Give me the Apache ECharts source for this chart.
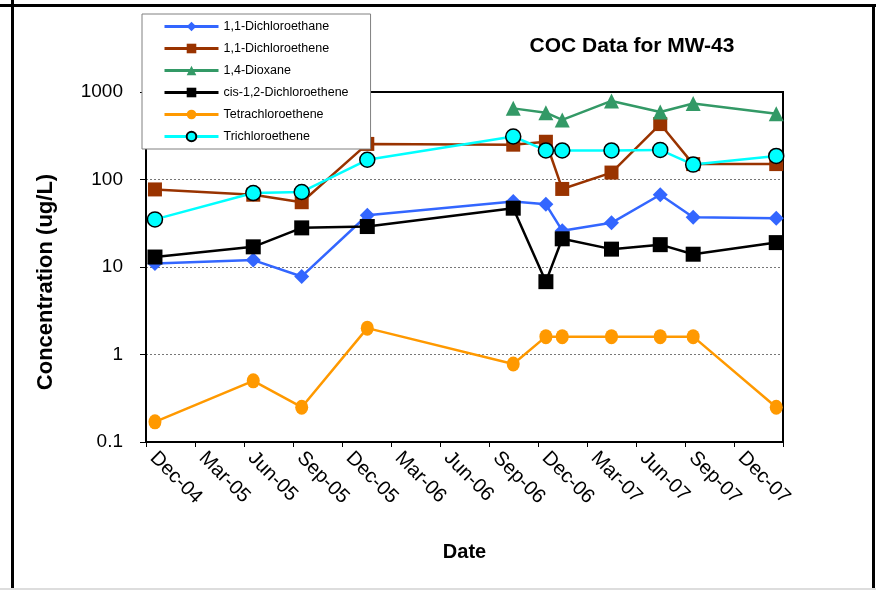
<!DOCTYPE html>
<html>
<head>
<meta charset="utf-8">
<script src="https://cdn.jsdelivr.net/npm/echarts@6/dist/echarts.min.js"></script>
<style>
  html, body { margin: 0; padding: 0; background: #fff; }
  #chart { width: 876px; height: 590px; }
</style>
</head>
<body>
<div id="chart"></div>
<script>
// Sampling dates (quarterly events) and concentrations in ug/L
const sampleDates = ['2004-12-18', '2005-06-18', '2005-09-17', '2006-01-18', '2006-10-16',
  '2006-12-16', '2007-01-16', '2007-04-16', '2007-07-16', '2007-09-16', '2008-02-18'];
const dioxaneDates = ['2006-10-16', '2006-12-16', '2007-01-16', '2007-04-16', '2007-07-16',
  '2007-09-16', '2008-02-18'];

const dca11 = [11, 12, 7.8, 39, 56, 52, 26, 32, 67, 37, 36];
const dce11 = [77, 67, 55, 255, 250, 270, 78, 120, 430, 150, 150];
const dioxane14 = [650, 580, 480, 790, 590, 740, 565];
const cisDce12 = [13, 17, 28, 29, 47, 6.8, 21, 16, 18, 14, 19];
const pce = [0.17, 0.5, 0.25, 2, 0.78, 1.6, 1.6, 1.6, 1.6, 1.6, 0.25];
const tce = [35, 70, 72, 168, 310, 215, 215, 215, 218, 148, 186];

// Axis tick labels, one every three months starting Dec-04
const xTickLabels = ['Dec-04', 'Mar-05', 'Jun-05', 'Sep-05', 'Dec-05', 'Mar-06', 'Jun-06',
  'Sep-06', 'Dec-06', 'Mar-07', 'Jun-07', 'Sep-07', 'Dec-07'];
const yTickLabels = ['0.1', '1', '10', '100', '1000'];

// Months elapsed since 1 Dec 2004 (fractional)
function monthsFromStart(s) {
  const [y, m, d] = s.split('-').map(Number);
  const dim = new Date(y, m, 0).getDate();
  return (y - 2004) * 12 + (m - 12) + (d - 1) / dim;
}
function pairs(dates, vals) {
  return dates.map((d, i) => [monthsFromStart(d), vals[i]]);
}

const font = '"Liberation Sans", Arial, sans-serif';

function lineSeries(name, dates, vals, color, symbol, size, extra) {
  return Object.assign({
    name: name,
    type: 'line',
    data: pairs(dates, vals),
    symbol: symbol,
    symbolSize: size,
    showAllSymbol: true,
    lineStyle: { color: color, width: 2.5 },
    itemStyle: { color: color },
    emphasis: { disabled: true },
    animation: false
  }, extra || {});
}

const chart = echarts.init(document.getElementById('chart'), null, { renderer: 'canvas' });

// Plain frame axes that close the plot box on the top and right
const frameAxis = {
  show: true,
  axisLine: { show: true, onZero: false, lineStyle: { color: '#000', width: 2 } },
  axisTick: { show: false },
  axisLabel: { show: false },
  splitLine: { show: false }
};

chart.setOption({
  backgroundColor: '#fff',
  animation: false,
  textStyle: { fontFamily: font },
  title: {
    text: 'COC Data for MW-43',
    left: 627, top: 31, textAlign: 'center',
    textStyle: { fontFamily: font, fontSize: 21, fontWeight: 'bold', color: '#000' }
  },
  legend: {
    orient: 'vertical',
    left: 142, top: 14,
    padding: [6, 22, 6, 21],
    itemWidth: 54, itemHeight: 12, itemGap: 9,
    backgroundColor: '#fff',
    borderColor: '#808080', borderWidth: 1,
    z: 10,
    lineStyle: { width: 3 },
    textStyle: { fontFamily: font, fontSize: 12.5, color: '#000' },
    data: ['1,1-Dichloroethane', '1,1-Dichloroethene', '1,4-Dioxane',
      'cis-1,2-Dichloroethene', 'Tetrachloroethene', 'Trichloroethene']
  },
  grid: {
    left: 146, top: 92, right: 93, bottom: 148,
    show: true, borderColor: '#000', borderWidth: 2, backgroundColor: '#fff'
  },
  xAxis: [{
    type: 'value',
    min: 0, max: 39, interval: 3,
    name: 'Date', nameLocation: 'middle', nameGap: 100,
    nameTextStyle: { fontFamily: font, fontSize: 20, fontWeight: 'bold', color: '#000' },
    axisLine: { show: true, onZero: false, lineStyle: { color: '#000', width: 2 } },
    axisTick: { show: true, length: 5, lineStyle: { color: '#000', width: 1 } },
    splitLine: { show: false },
    axisLabel: {
      rotate: -45, margin: 20, verticalAlign: 'bottom',
      fontFamily: font, fontSize: 20, color: '#000',
      showMaxLabel: true,
      formatter: v => xTickLabels[Math.round(v / 3)] || ''
    }
  }, Object.assign({ type: 'value', position: 'top', min: 0, max: 39 }, frameAxis)],
  yAxis: [{
    type: 'log', logBase: 10, min: 0.1, max: 1000,
    name: 'Concentration (ug/L)', nameLocation: 'middle', nameGap: 89,
    nameTextStyle: { fontFamily: font, fontSize: 22, fontWeight: 'bold', color: '#000',
      padding: [0, 30, 0, 0] },
    axisLine: { show: true, lineStyle: { color: '#000', width: 2 } },
    axisTick: { show: true, length: 6, lineStyle: { color: '#000', width: 1 } },
    splitLine: { show: true, lineStyle: { color: '#777', width: 1, type: [2, 2] } },
    axisLabel: {
      margin: 23, fontFamily: font, fontSize: 19, color: '#000',
      formatter: v => yTickLabels[Math.round(Math.log10(v)) + 1]
    }
  }, Object.assign({ type: 'log', position: 'right', min: 0.1, max: 1000 }, frameAxis)],
  series: [
    lineSeries('1,1-Dichloroethane', sampleDates, dca11, '#3366FF', 'diamond', 15),
    lineSeries('1,1-Dichloroethene', sampleDates, dce11, '#993300', 'rect', 14),
    lineSeries('1,4-Dioxane', dioxaneDates, dioxane14, '#339966', 'triangle', 15),
    lineSeries('cis-1,2-Dichloroethene', sampleDates, cisDce12, '#000000', 'rect', 15),
    lineSeries('Tetrachloroethene', sampleDates, pce, '#FF9900', 'circle', [13, 15]),
    lineSeries('Trichloroethene', sampleDates, tce, '#00FFFF', 'circle', 15, {
      itemStyle: { color: '#00FFFF', borderColor: '#000', borderWidth: 1.5 }
    })
  ],
  graphic: [
    { type: 'rect', shape: { x: 0, y: 4, width: 876, height: 3 }, style: { fill: '#000' }, z: 100 },
    { type: 'rect', shape: { x: 11, y: 0, width: 3, height: 590 }, style: { fill: '#000' }, z: 100 },
    { type: 'rect', shape: { x: 872, y: 4, width: 3, height: 586 }, style: { fill: '#000' }, z: 100 },
    { type: 'rect', shape: { x: 0, y: 588, width: 876, height: 2 }, style: { fill: '#ddd' }, z: 100 }
  ]
});
</script>
</body>
</html>
